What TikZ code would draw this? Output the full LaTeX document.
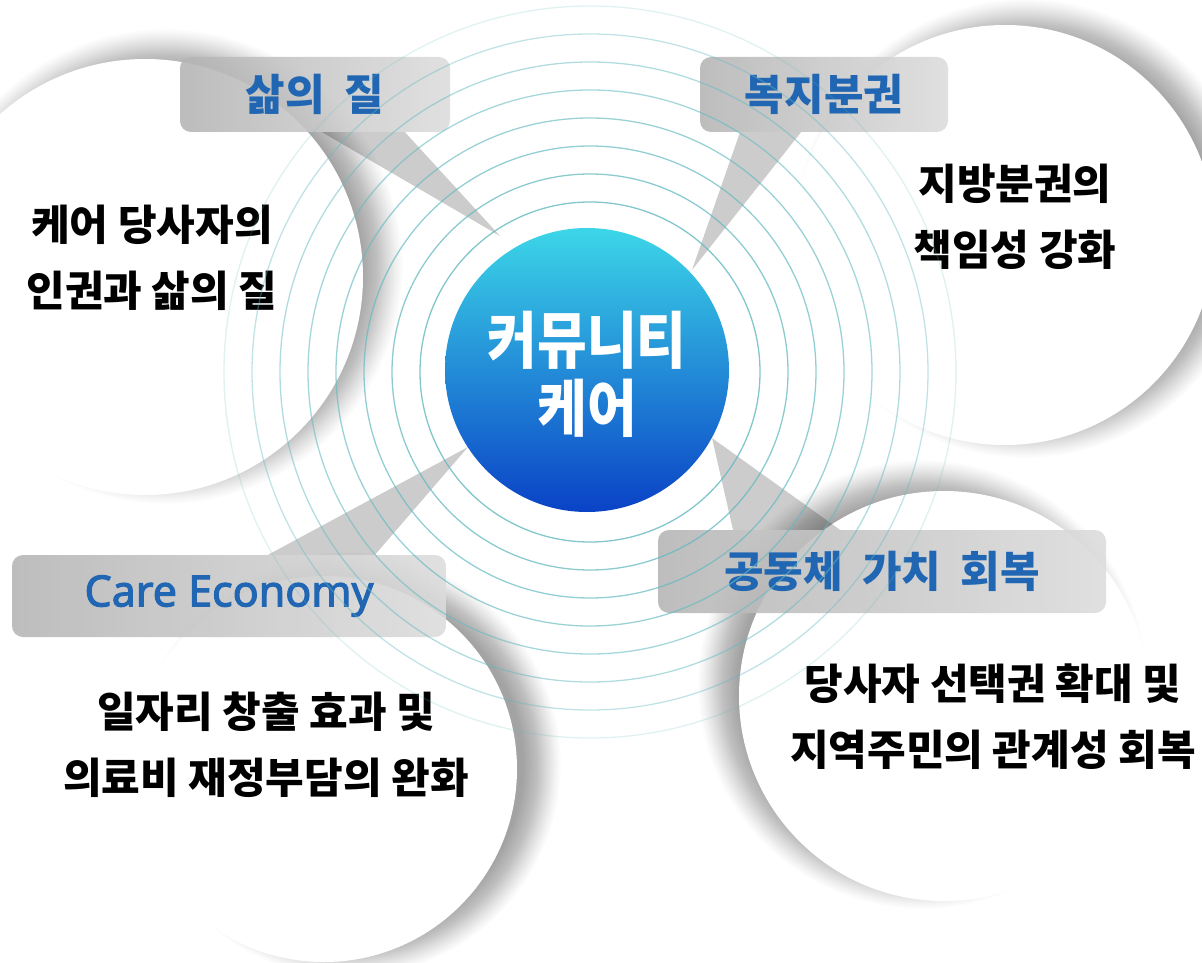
\documentclass[tikz,border=0pt]{standalone}
\usepackage{fontspec}
\setmainfont{Noto Sans CJK KR}
\newfontfamily\latinsans{Noto Sans}[FakeBold=2.5]
\definecolor{lblue}{RGB}{33,102,178}
\definecolor{ringc}{RGB}{100,185,192}
\definecolor{hubtop}{RGB}{60,214,232}
\definecolor{hubmid}{RGB}{28,155,220}
\definecolor{hubbot}{RGB}{10,66,198}
\definecolor{boxl}{RGB}{180,180,180}
\definecolor{boxr}{RGB}{220,220,220}
\definecolor{sha}{gray}{0.64}
\definecolor{shb}{gray}{0.75}
\definecolor{shc}{gray}{0.86}
\definecolor{shd}{gray}{0.95}
\pgfdeclareradialshading{softshade}{\pgfpoint{0bp}{0bp}}{%
  color(0bp)=(sha); color(20.5bp)=(sha); color(22.2bp)=(shb);
  color(23.3bp)=(shc); color(24.3bp)=(shd); color(25bp)=(white); color(50bp)=(white)}
\tikzset{
  labelbox/.style={rectangle, rounded corners=11pt, left color=boxl, right color=boxr,
    fill opacity=0.88, text opacity=1, text=lblue, inner sep=0pt,
    font=\fontsize{43}{46}\selectfont\bfseries},
  bodytext/.style={align=center, text=black, inner sep=0pt,
    font=\fontsize{42}{66}\selectfont\bfseries},
  tailshape/.style={fill=black, fill opacity=0.2},
  ringline/.style={draw=ringc, line width=1.3pt},
  bubble/.style={circle, fill=white, inner sep=0pt},
  softshadow/.style={shading=softshade},
}
\begin{document}
\begin{tikzpicture}[x=1pt, y=-1pt]
\useasboundingbox (0,0) rectangle (1202,963);
\clip (0,0) rectangle (1202,963);
% soft shadows of the four bubbles
\shade[softshadow] (165,266) circle[radius=238];
\shade[softshadow] (1025,228) circle[radius=230];
\shade[softshadow] (348,764) circle[radius=213];
\shade[softshadow] (922,684) circle[radius=225];
% white bubbles
\node[bubble, minimum size=436pt] (b1) at (145,277) {};
\node[bubble, minimum size=420pt] (b2) at (1005,235) {};
\node[bubble, minimum size=386pt] (b3) at (324,769) {};
\node[bubble, minimum size=410pt] (b4) at (944,696) {};
% label boxes
\node[labelbox, minimum width=270pt, minimum height=75pt] (lab1) at (315,94.5) {삶의\hspace{0.45em}질};
\node[labelbox, minimum width=248pt, minimum height=75pt] (lab2) at (824,94.5) {복지분권};
\node[labelbox, minimum width=434pt, minimum height=82pt, font=\latinsans\fontsize{43}{46}\selectfont] (lab3) at (229,596) {Care Economy};
\node[labelbox, minimum width=448pt, minimum height=83pt] (lab4) at (882,571.5) {공동체\hspace{0.45em}가치\hspace{0.45em}회복};
% tail tips
\coordinate (tip1) at (500,236);
\coordinate (tip2) at (692,270);
\coordinate (tip3) at (468,447);
\coordinate (tip4) at (712,438);
% tails
\fill[tailshape] ([xshift=7pt]lab1.south) -- ([xshift=90pt]lab1.south) -- (tip1) -- cycle;
\fill[tailshape] ([xshift=-84pt]lab2.south) -- ([xshift=-23pt]lab2.south) -- (tip2) -- cycle;
\fill[tailshape] ([xshift=39pt]lab3.north) -- ([xshift=146pt]lab3.north) -- (tip3) -- cycle;
\fill[tailshape] ([xshift=-149pt]lab4.north) -- ([xshift=-42pt]lab4.north) -- (tip4) -- cycle;
% body texts
\node[bodytext] (t1) at (152,258) {케어 당사자의\\인권과 삶의 질};
\node[bodytext] (t2) at (1015,217) {지방분권의\\책임성 강화};
\node[bodytext] (t3) at (266,745) {일자리 창출 효과 및\\의료비 재정부담의 완화};
\node[bodytext] (t4) at (993,717) {당사자 선택권 확대 및\\지역주민의 관계성 회복};
% ripple rings
\foreach \k/\op in {0/0.8,1/0.75,2/0.7,3/0.65,4/0.58,5/0.5,6/0.4,7/0.2}{
  \draw[ringline, opacity=\op] (590,372) circle[radius={170+28*\k}];
}
% hub
\node[circle, minimum size=284pt, inner sep=0pt, top color=hubtop, middle color=hubmid, bottom color=hubbot] (hub) at (587,370) {};
\node[align=center, text=white, inner sep=0pt, font=\fontsize{54}{68}\selectfont\bfseries] (hubtext) at (587,374) {\scalebox{1}[1.15]{커뮤니티}\\\scalebox{1}[1.15]{케어}};
\end{tikzpicture}
\end{document}
